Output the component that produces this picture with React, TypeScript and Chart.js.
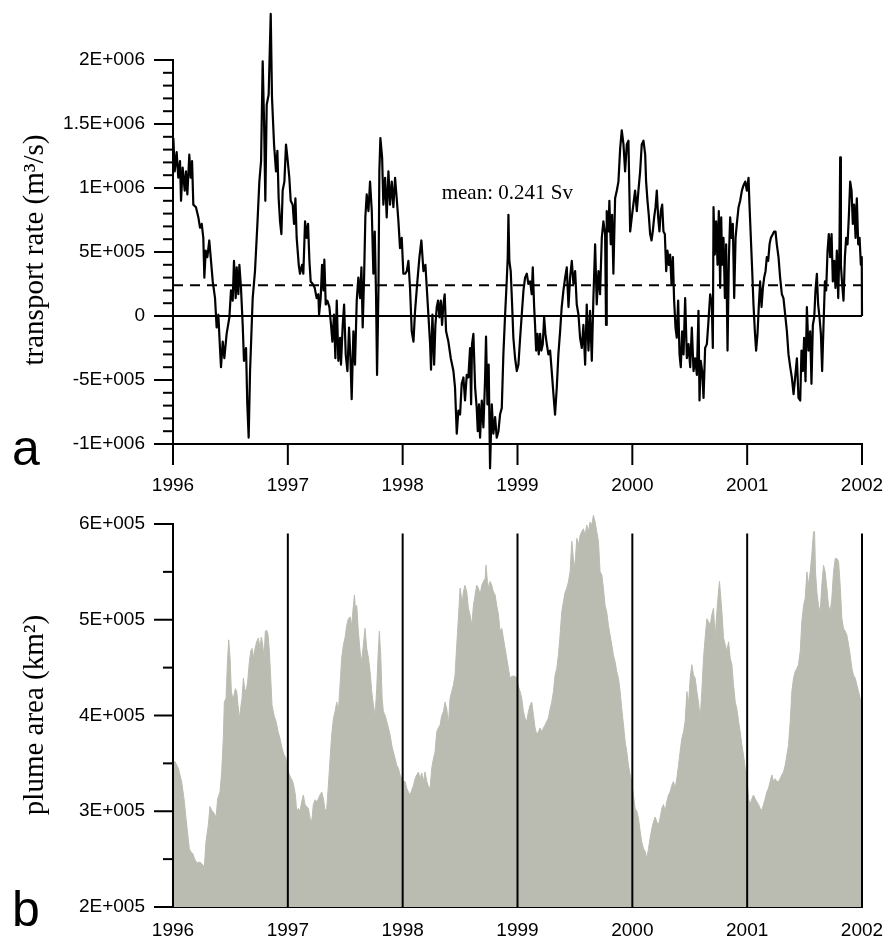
import React, { useEffect, useRef } from "react";
import { Chart, registerables } from "chart.js";

Chart.register(...registerables);

const SANS = '"Liberation Sans", Arial, Helvetica, sans-serif';
const SERIF = '"Liberation Serif", "Times New Roman", Times, serif';

// ---------- Panel a: transport rate (m^3/s) ----------
const transportYears = [
  1996.003,1996.015,1996.032,1996.046,1996.061,1996.070,1996.084,1996.102,1996.113,1996.125,
  1996.142,1996.154,1996.166,1996.177,1996.200,1996.221,1996.235,1996.250,1996.264,1996.273,
  1996.285,1996.299,1996.316,1996.331,1996.346,1996.366,1996.380,1996.395,1996.409,1996.418,
  1996.433,1996.447,1996.467,1996.491,1996.505,1996.520,1996.531,1996.546,1996.555,1996.569,
  1996.578,1996.592,1996.607,1996.618,1996.636,1996.647,1996.659,1996.671,1996.694,1996.714,
  1996.735,1996.752,1996.767,1996.781,1996.793,1996.804,1996.816,1996.833,1996.851,1996.862,
  1996.880,1996.897,1996.909,1996.920,1996.932,1996.944,1996.955,1996.970,1996.984,1996.996,
  1997.013,1997.025,1997.042,1997.054,1997.066,1997.077,1997.095,1997.106,1997.124,1997.135,
  1997.150,1997.164,1997.176,1997.188,1997.199,1997.217,1997.234,1997.251,1997.266,1997.272,
  1997.286,1997.298,1997.310,1997.318,1997.330,1997.344,1997.362,1997.376,1997.388,1997.402,
  1997.414,1997.426,1997.440,1997.455,1997.463,1997.478,1997.490,1997.504,1997.519,1997.533,
  1997.545,1997.556,1997.571,1997.585,1997.600,1997.614,1997.629,1997.641,1997.652,1997.664,
  1997.675,1997.687,1997.702,1997.716,1997.731,1997.745,1997.757,1997.768,1997.777,1997.789,
  1997.797,1997.806,1997.821,1997.832,1997.847,1997.861,1997.876,1997.890,1997.905,1997.919,
  1997.934,1997.948,1997.963,1997.977,1997.992,1998.006,
  1998.022,1998.036,1998.050,1998.064,1998.079,1998.094,1998.108,1998.128,1998.146,1998.163,
  1998.181,1998.198,1998.210,1998.224,1998.239,1998.247,1998.259,1998.274,1998.285,1998.297,
  1998.308,1998.320,1998.332,1998.343,1998.355,1998.366,1998.378,1998.398,1998.419,1998.442,
  1998.456,1998.471,1998.485,1998.500,1998.514,1998.529,1998.543,1998.558,1998.572,1998.587,
  1998.596,1998.604,1998.616,1998.631,1998.645,1998.654,1998.665,1998.674,1998.689,1998.703,
  1998.717,1998.726,1998.738,1998.749,1998.761,1998.776,1998.790,1998.805,1998.819,1998.834,
  1998.848,1998.863,1998.877,1998.892,1998.906,1998.915,1998.921,1998.929,1998.941,1998.953,
  1998.964,1998.979,1998.994,1999.008,1999.023,1999.037,1999.052,1999.066,1999.081,1999.095,
  1999.110,1999.124,1999.133,1999.145,1999.153,1999.162,1999.174,1999.185,1999.197,1999.208,
  1999.220,1999.232,1999.243,1999.255,1999.269,1999.284,1999.298,1999.313,1999.327,1999.342,
  1999.356,1999.371,1999.385,1999.400,1999.415,1999.429,1999.444,1999.458,1999.473,1999.487,
  1999.502,1999.516,1999.531,1999.545,1999.560,1999.574,1999.589,1999.603,1999.618,1999.632,
  1999.647,1999.661,1999.676,1999.690,1999.705,1999.719,1999.734,1999.748,1999.763,1999.771,
  1999.777,1999.792,1999.800,1999.812,1999.824,1999.835,1999.850,1999.865,1999.879,1999.894,
  1999.908,1999.923,1999.937,1999.952,1999.966,1999.981,1999.995,
  2000.024,2000.039,2000.053,2000.068,2000.082,2000.097,2000.112,2000.120,2000.132,2000.143,
  2000.155,2000.167,2000.178,2000.190,2000.202,2000.213,2000.225,2000.236,2000.248,2000.260,
  2000.271,2000.283,2000.295,2000.306,2000.318,2000.329,2000.341,2000.353,2000.364,2000.376,
  2000.387,2000.399,2000.411,2000.422,2000.434,2000.446,2000.460,2000.475,2000.489,2000.504,
  2000.518,2000.533,2000.547,2000.562,2000.576,2000.585,2000.596,2000.608,2000.620,2000.634,
  2000.649,2000.663,2000.678,2000.692,2000.701,2000.707,2000.718,2000.730,2000.742,2000.753,
  2000.765,2000.774,2000.782,2000.794,2000.806,2000.817,2000.829,2000.841,2000.852,2000.864,
  2000.875,2000.887,2000.899,2000.910,2000.925,2000.939,2000.954,2000.968,2000.983,2000.997,
  2001.012,2001.020,2001.032,2001.044,2001.055,2001.067,2001.078,2001.090,2001.102,2001.113,
  2001.125,2001.137,2001.148,2001.160,2001.171,2001.183,2001.195,2001.206,2001.224,2001.235,
  2001.247,2001.258,2001.273,2001.287,2001.302,2001.316,2001.331,2001.346,2001.360,2001.375,
  2001.389,2001.404,2001.418,2001.433,2001.447,2001.462,2001.473,2001.485,2001.496,2001.508,
  2001.520,2001.534,2001.549,2001.560,2001.572,2001.584,2001.595,2001.607,2001.618,2001.630,
  2001.642,2001.653,2001.665,2001.677,2001.688,2001.700,2001.711,2001.723,2001.735,2001.746,
  2001.758,2001.769,2001.781,2001.793,2001.804,2001.810,2001.816,2001.827,2001.839,2001.851,
  2001.862,2001.874,2001.885,2001.897,2001.909,2001.920,2001.932,2001.944,2001.955,2001.967,
  2001.979,2001.990,2001.998,2002.000,
];

const transportValues = [
  1390000,1130000,1280000,1080000,1210000,900000,1160000,980000,1130000,950000,
  1260000,1080000,1210000,870000,850000,770000,690000,720000,610000,300000,
  510000,460000,590000,430000,270000,140000,-90000,10000,-250000,-400000,
  -200000,-330000,-140000,-10000,200000,120000,430000,140000,380000,170000,
  400000,220000,-70000,-350000,-250000,-690000,-950000,-430000,140000,350000,
  720000,1050000,1210000,1990000,1520000,900000,1650000,1730000,2360000,1710000,
  1340000,1130000,1290000,920000,740000,640000,980000,1050000,1340000,1240000,
  1080000,900000,870000,720000,920000,610000,400000,330000,400000,330000,
  740000,610000,720000,430000,270000,250000,220000,140000,170000,10000,
  140000,400000,200000,440000,90000,120000,70000,-70000,-200000,10000,
  -330000,120000,-350000,-170000,-380000,-70000,90000,-300000,-430000,-90000,
  -330000,-650000,-120000,-380000,120000,300000,140000,380000,-90000,300000,
  770000,950000,820000,1050000,820000,330000,660000,170000,-460000,200000,
  1130000,1390000,1240000,870000,1080000,770000,1130000,870000,1050000,850000,
  1080000,920000,740000,530000,610000,330000,
  330000,350000,430000,220000,-120000,-200000,40000,270000,460000,590000,
  350000,400000,220000,10000,-220000,-420000,10000,-380000,-70000,70000,
  120000,-10000,120000,-70000,90000,170000,-120000,-200000,-330000,-430000,
  -560000,-920000,-740000,-770000,-530000,-480000,-660000,-460000,-480000,-250000,
  -690000,-220000,-140000,-560000,-720000,-900000,-690000,-950000,-660000,-870000,
  -510000,-160000,-690000,-380000,-1190000,-690000,-920000,-790000,-950000,-900000,
  -770000,-720000,-300000,10000,270000,460000,790000,430000,350000,90000,
  -170000,-330000,-430000,-380000,-170000,10000,200000,300000,330000,250000,
  270000,170000,380000,70000,-70000,-270000,-140000,-300000,-140000,-270000,
  -220000,-10000,-140000,-220000,-300000,-270000,-430000,-610000,-770000,-560000,
  -300000,-120000,70000,200000,300000,380000,70000,300000,430000,250000,
  350000,90000,10000,-170000,-250000,-70000,-380000,90000,-270000,40000,
  -350000,140000,560000,90000,350000,170000,610000,740000,640000,-70000,
  820000,660000,900000,560000,790000,330000,920000,980000,1050000,1310000,
  1450000,1340000,1130000,1340000,1370000,660000,770000,
  980000,820000,980000,1130000,1340000,1370000,1260000,1050000,900000,790000,
  640000,590000,660000,770000,850000,980000,770000,660000,820000,870000,
  660000,640000,350000,510000,400000,480000,250000,460000,120000,-90000,
  -170000,120000,-300000,-400000,-120000,-300000,140000,-330000,-220000,-400000,
  -90000,-430000,-330000,-460000,40000,-660000,-350000,-430000,-640000,-250000,
  -220000,-40000,170000,90000,-250000,850000,480000,740000,400000,820000,
  220000,770000,400000,610000,140000,560000,-270000,460000,770000,610000,
  720000,140000,610000,720000,850000,900000,980000,1020000,1050000,980000,
  1080000,870000,610000,350000,90000,-120000,-270000,-140000,90000,270000,
  70000,220000,300000,350000,460000,430000,560000,610000,640000,660000,
  660000,560000,460000,300000,170000,140000,10000,-120000,-300000,-400000,
  -480000,-610000,-480000,-330000,-640000,-660000,-270000,-430000,-170000,-510000,
  70000,-270000,-120000,-530000,-70000,-10000,200000,330000,90000,-10000,
  -140000,-430000,-70000,270000,200000,510000,640000,460000,640000,270000,
  430000,220000,510000,140000,560000,1240000,400000,250000,120000,460000,
  610000,560000,770000,1050000,980000,720000,870000,610000,920000,560000,
  610000,400000,460000,0,
];

const meanTransport = 241000; // m^3/s = 0.241 Sv
const meanLabelX = 1998.34;
const meanLabelY = 914000;

const yearTicks = [1996, 1997, 1998, 1999, 2000, 2001, 2002];
const transportTickValues = [-1000000, -500000, 0, 500000, 1000000, 1500000, 2000000];
const transportTickLabels = ["-1E+006", "-5E+005", "0", "5E+005", "1E+006", "1.5E+006", "2E+006"];

// ---------- Panel b: plume area (km^2) ----------
const plumeYears = [
  1996.000,1996.017,1996.046,1996.075,1996.096,1996.119,1996.142,1996.154,1996.171,1996.192,
  1996.212,1996.235,1996.258,1996.273,1996.287,1996.308,1996.322,1996.337,1996.357,1996.375,
  1996.389,1996.409,1996.424,1996.438,1996.447,1996.462,1996.473,1996.485,1996.497,1996.508,
  1996.520,1996.531,1996.543,1996.555,1996.566,1996.578,1996.589,1996.601,1996.613,1996.624,
  1996.636,1996.650,1996.665,1996.677,1996.688,1996.700,1996.714,1996.729,1996.743,1996.758,
  1996.769,1996.781,1996.793,1996.804,1996.816,1996.828,1996.839,1996.851,1996.862,1996.880,
  1996.897,1996.915,1996.932,1996.949,1996.967,1996.984,1996.996,1997.013,1997.031,1997.048,
  1997.066,1997.077,1997.092,1997.106,1997.121,1997.135,1997.150,1997.164,1997.179,1997.193,
  1997.208,1997.222,1997.237,1997.251,1997.266,1997.280,1997.295,1997.310,1997.324,1997.339,
  1997.353,1997.368,1997.382,1997.397,1997.411,1997.426,1997.440,1997.455,1997.469,1997.484,
  1997.498,1997.513,1997.527,1997.542,1997.556,1997.571,1997.580,1997.588,1997.600,1997.614,
  1997.629,1997.643,1997.658,1997.672,1997.687,1997.702,1997.716,1997.731,1997.745,1997.760,
  1997.774,1997.786,1997.797,1997.809,1997.821,1997.832,1997.847,1997.861,1997.876,1997.890,
  1997.905,1997.919,1997.934,1997.948,1997.963,1997.977,1997.992,1998.006,
  1998.021,1998.036,1998.050,1998.064,1998.079,1998.094,1998.108,1998.123,1998.137,1998.152,
  1998.166,1998.181,1998.195,1998.210,1998.224,1998.239,1998.253,1998.268,1998.282,1998.297,
  1998.311,1998.326,1998.340,1998.355,1998.369,1998.384,1998.398,1998.413,1998.427,1998.442,
  1998.456,1998.471,1998.485,1998.500,1998.509,1998.517,1998.529,1998.543,1998.558,1998.572,
  1998.587,1998.602,1998.616,1998.631,1998.645,1998.660,1998.674,1998.689,1998.703,1998.718,
  1998.726,1998.738,1998.749,1998.761,1998.776,1998.790,1998.805,1998.819,1998.834,1998.848,
  1998.863,1998.877,1998.892,1998.906,1998.921,1998.935,1998.950,1998.964,1998.979,1998.994,
  1999.008,1999.023,1999.037,1999.052,1999.066,1999.081,1999.095,1999.110,1999.124,1999.139,
  1999.153,1999.168,1999.182,1999.197,1999.211,1999.226,1999.240,1999.255,1999.269,1999.284,
  1999.298,1999.313,1999.327,1999.342,1999.356,1999.371,1999.385,1999.400,1999.415,1999.429,
  1999.444,1999.458,1999.473,1999.481,1999.493,1999.505,1999.516,1999.531,1999.545,1999.560,
  1999.574,1999.589,1999.603,1999.618,1999.632,1999.647,1999.661,1999.676,1999.690,1999.705,
  1999.719,1999.734,1999.748,1999.763,1999.777,1999.792,1999.806,1999.821,1999.835,1999.850,
  1999.864,1999.879,1999.894,1999.908,1999.923,1999.937,1999.952,1999.966,1999.981,1999.995,
  2000.024,2000.039,2000.053,2000.068,2000.082,2000.097,2000.112,2000.126,2000.141,2000.155,
  2000.170,2000.184,2000.199,2000.213,2000.228,2000.242,2000.257,2000.271,2000.286,2000.300,
  2000.315,2000.329,2000.344,2000.358,2000.373,2000.387,2000.402,2000.416,2000.431,2000.446,
  2000.460,2000.475,2000.489,2000.504,2000.518,2000.533,2000.547,2000.562,2000.576,2000.591,
  2000.605,2000.620,2000.634,2000.649,2000.663,2000.678,2000.692,2000.707,2000.721,2000.736,
  2000.750,2000.759,2000.771,2000.782,2000.794,2000.809,2000.823,2000.838,2000.852,2000.867,
  2000.881,2000.896,2000.910,2000.925,2000.939,2000.954,2000.968,2000.983,2000.997,2001.012,
  2001.026,2001.041,2001.055,2001.070,2001.084,2001.099,2001.113,2001.128,2001.142,2001.157,
  2001.171,2001.186,2001.200,2001.215,2001.229,2001.244,2001.258,2001.273,2001.287,2001.302,
  2001.316,2001.331,2001.346,2001.360,2001.375,2001.389,2001.404,2001.418,2001.433,2001.447,
  2001.462,2001.476,2001.491,2001.505,2001.520,2001.534,2001.549,2001.563,2001.578,2001.587,
  2001.595,2001.607,2001.621,2001.636,2001.650,2001.665,2001.679,2001.694,2001.708,2001.723,
  2001.737,2001.752,2001.767,2001.781,2001.796,2001.810,2001.825,2001.839,2001.854,2001.868,
  2001.883,2001.897,2001.912,2001.926,2001.941,2001.955,2001.970,2001.984,2001.999,
];

const plumeValues = [
  350000,352000,345000,331000,313000,286000,261000,258000,256000,249000,
  246000,247000,244000,242000,268000,286000,305000,301000,298000,294000,
  313000,320000,341000,376000,414000,418000,453000,479000,460000,425000,
  418000,421000,428000,425000,411000,397000,407000,418000,439000,428000,
  425000,435000,456000,467000,470000,460000,470000,477000,481000,470000,
  482000,474000,460000,488000,489000,484000,467000,439000,411000,400000,
  394000,383000,376000,366000,359000,355000,345000,338000,334000,329000,
  317000,300000,303000,300000,310000,317000,307000,305000,303000,293000,
  289000,307000,312000,310000,313000,317000,320000,313000,301000,303000,
  327000,355000,380000,397000,404000,414000,404000,432000,460000,474000,
  481000,494000,501000,503000,494000,515000,526000,512000,515000,488000,
  467000,456000,474000,491000,470000,460000,446000,425000,411000,400000,
  428000,463000,488000,463000,418000,404000,400000,394000,387000,380000,
  369000,362000,355000,348000,345000,338000,334000,331000,
  331000,324000,320000,317000,322000,327000,334000,338000,341000,334000,
  340000,331000,341000,331000,326000,324000,345000,355000,362000,383000,
  387000,390000,400000,404000,414000,407000,390000,418000,425000,432000,
  442000,474000,501000,533000,526000,515000,529000,536000,529000,512000,
  505000,494000,515000,526000,536000,533000,526000,536000,540000,543000,
  557000,540000,533000,540000,536000,529000,526000,515000,505000,488000,
  491000,481000,470000,460000,449000,439000,441000,441000,441000,439000,
  430000,425000,418000,404000,397000,394000,404000,411000,414000,400000,
  387000,380000,383000,387000,383000,387000,390000,394000,397000,407000,
  414000,425000,442000,449000,463000,484000,508000,519000,529000,533000,
  540000,550000,582000,571000,554000,564000,585000,578000,588000,592000,
  595000,588000,599000,592000,602000,599000,609000,602000,592000,582000,
  550000,547000,533000,515000,508000,494000,484000,474000,463000,456000,
  446000,439000,425000,407000,390000,373000,362000,348000,338000,331000,
  303000,300000,293000,279000,268000,261000,258000,251000,261000,272000,
  282000,289000,294000,289000,286000,293000,303000,307000,300000,310000,
  317000,320000,327000,331000,324000,334000,348000,362000,376000,383000,
  394000,425000,411000,439000,453000,442000,439000,425000,414000,397000,
  425000,460000,481000,501000,498000,494000,505000,512000,481000,508000,
  529000,540000,522000,505000,481000,474000,467000,477000,460000,453000,
  432000,414000,407000,394000,383000,369000,359000,345000,338000,313000,
  307000,313000,317000,313000,310000,307000,303000,301000,307000,313000,
  320000,324000,331000,338000,331000,334000,331000,331000,334000,338000,
  341000,348000,359000,369000,394000,425000,439000,446000,449000,453000,
  467000,498000,515000,522000,550000,536000,550000,568000,592000,592000,
  550000,529000,515000,508000,536000,557000,550000,533000,515000,508000,
  522000,550000,564000,564000,561000,536000,501000,491000,488000,484000,
  474000,463000,449000,442000,439000,432000,425000,418000,414000,
];

const plumeTickValues = [200000, 300000, 400000, 500000, 600000];
const plumeTickLabels = ["2E+005", "3E+005", "4E+005", "5E+005", "6E+005"];
const plumeBase = 200000;
const yearLineYears = [1996, 1997, 1998, 1999, 2000, 2001, 2002];
const yearLineTops = [600000, 590000, 590000, 590000, 590000, 590000, 590000];

const pts = (xs: number[], ys: number[]) =>
  xs.map((x, i) => ({ x, y: ys[i] })).filter((p) => p.y !== undefined);

function ticksPlugin(id: string, yFrom: number, yTo: number, minorStep: number, majorStep: number, xTicks: number[] | null) {
  return {
    id,
    afterDraw(chart: any) {
      const { ctx, chartArea } = chart;
      const ys = chart.scales.y;
      const xs = chart.scales.x;
      ctx.save();
      ctx.strokeStyle = "#000";
      ctx.lineWidth = 2;
      const n = Math.round((yTo - yFrom) / minorStep);
      for (let k = 0; k <= n; k++) {
        const v = yFrom + k * minorStep;
        const r = v / majorStep;
        const major = Math.abs(r - Math.round(r)) < 1e-9;
        const len = major ? 19 : 10;
        const py = ys.getPixelForValue(v);
        ctx.beginPath();
        ctx.moveTo(chartArea.left - len, py);
        ctx.lineTo(chartArea.left + 1, py);
        ctx.stroke();
      }
      if (xTicks) {
        for (const t of xTicks) {
          const px = xs.getPixelForValue(t);
          ctx.beginPath();
          ctx.moveTo(px, chartArea.bottom);
          ctx.lineTo(px, chartArea.bottom + 21);
          ctx.stroke();
        }
      }
      ctx.restore();
    },
  };
}

function textPlugin(id: string, letter: string, letterY: number, title: string, titleY: number, extra?: (chart: any) => void) {
  return {
    id,
    afterDraw(chart: any) {
      const { ctx } = chart;
      ctx.save();
      ctx.fillStyle = "#000";
      if (extra) extra(chart);
      ctx.font = `50px ${SANS}`;
      ctx.textAlign = "left";
      ctx.textBaseline = "alphabetic";
      ctx.fillText(letter, 12, letterY);
      ctx.translate(35, titleY);
      ctx.rotate(-Math.PI / 2);
      ctx.font = `29px ${SERIF}`;
      ctx.textAlign = "center";
      ctx.textBaseline = "middle";
      ctx.fillText(title, 0, 0);
      ctx.restore();
    },
  };
}

const tickFont = { family: SANS, size: 19 };

const fitX = (h: number) => (s: any) => {
  s.height = h;
  s.paddingLeft = 0;
  s.paddingRight = 0;
};
const fitY = (s: any) => {
  s.width = 173;
  s.paddingTop = 0;
  s.paddingBottom = 0;
};

export default function App() {
  const refA = useRef<HTMLCanvasElement | null>(null);
  const refB = useRef<HTMLCanvasElement | null>(null);

  useEffect(() => {
    if (!refA.current || !refB.current) return;

    const meanLabel = `mean: ${(meanTransport / 1e6).toFixed(3)} Sv`;

    const chartA = new Chart(refA.current, {
      type: "line",
      data: {
        datasets: [
          {
            data: pts(transportYears, transportValues),
            borderColor: "#000",
            borderWidth: 2.2,
            pointRadius: 0,
            tension: 0,
            fill: false,
            clip: false,
            borderJoinStyle: "round",
          } as any,
          {
            data: [
              { x: yearTicks[0], y: meanTransport },
              { x: yearTicks[yearTicks.length - 1], y: meanTransport },
            ],
            borderColor: "#000",
            borderWidth: 2,
            borderDash: [10, 7],
            pointRadius: 0,
            fill: false,
          },
          {
            data: [
              { x: yearTicks[0], y: 0 },
              { x: yearTicks[yearTicks.length - 1], y: 0 },
            ],
            borderColor: "#000",
            borderWidth: 2,
            pointRadius: 0,
            fill: false,
          },
        ],
      },
      options: {
        animation: false,
        responsive: false,
        events: [],
        layout: { padding: { top: 60, right: 25, left: 0, bottom: 0 } },
        plugins: { legend: { display: false }, tooltip: { enabled: false } },
        scales: {
          x: {
            type: "linear",
            min: 1996,
            max: 2002,
            afterBuildTicks: (s: any) => {
              s.ticks = yearTicks.map((value) => ({ value }));
            },
            afterFit: fitX(496),
            ticks: {
              font: tickFont,
              color: "#000",
              padding: 30,
              maxRotation: 0,
              autoSkip: false,
              callback: (v: any) => String(v),
            },
            grid: { display: false, drawTicks: false },
            border: { display: true, color: "#000", width: 2 },
          },
          y: {
            type: "linear",
            min: -1000000,
            max: 2000000,
            afterBuildTicks: (s: any) => {
              s.ticks = transportTickValues.map((value) => ({ value }));
            },
            afterFit: fitY,
            ticks: {
              font: tickFont,
              color: "#000",
              padding: 28,
              autoSkip: false,
              callback: (v: any) => {
                const i = transportTickValues.indexOf(Number(v));
                return i >= 0 ? transportTickLabels[i] : "";
              },
            },
            grid: { display: false, drawTicks: false },
            border: { display: true, color: "#000", width: 2 },
          },
        },
      },
      plugins: [
        ticksPlugin("ticksA", -1000000, 2000000, 100000, 500000, yearTicks),
        textPlugin("textA", "a", 465, "transport rate (m³/s)", 250, (chart: any) => {
          const { ctx } = chart;
          ctx.font = `21px ${SERIF}`;
          ctx.textAlign = "left";
          ctx.textBaseline = "alphabetic";
          ctx.fillText(
            meanLabel,
            chart.scales.x.getPixelForValue(meanLabelX),
            chart.scales.y.getPixelForValue(meanLabelY)
          );
        }),
      ],
    } as any);

    const lineSets = yearLineYears.map((yr, i) => ({
      data: [
        { x: yr, y: plumeBase },
        { x: yr, y: yearLineTops[i] },
      ],
      borderColor: "#000",
      borderWidth: 2,
      pointRadius: 0,
      fill: false,
      clip: false,
      order: 0,
    }));

    const chartB = new Chart(refB.current, {
      type: "line",
      data: {
        datasets: [
          ...lineSets,
          {
            data: pts(plumeYears, plumeValues),
            borderColor: "rgb(186,187,177)",
            backgroundColor: "rgb(186,187,177)",
            borderWidth: 1,
            pointRadius: 0,
            tension: 0,
            fill: "start",
            clip: false,
            order: 1,
          },
        ],
      },
      options: {
        animation: false,
        responsive: false,
        events: [],
        layout: { padding: { top: 512.5, right: 25, left: 0, bottom: 0 } },
        plugins: { legend: { display: false }, tooltip: { enabled: false } },
        scales: {
          x: {
            type: "linear",
            min: 1996,
            max: 2002,
            afterBuildTicks: (s: any) => {
              s.ticks = yearTicks.map((value) => ({ value }));
            },
            afterFit: fitX(33),
            ticks: {
              font: tickFont,
              color: "#000",
              padding: 12,
              maxRotation: 0,
              autoSkip: false,
              callback: (v: any) => String(v),
            },
            grid: { display: false, drawTicks: false },
            border: { display: true, color: "#000", width: 2 },
          },
          y: {
            type: "linear",
            min: 200000,
            max: 612000,
            afterBuildTicks: (s: any) => {
              s.ticks = plumeTickValues.map((value) => ({ value }));
            },
            afterFit: fitY,
            ticks: {
              font: tickFont,
              color: "#000",
              padding: 28,
              autoSkip: false,
              callback: (v: any) => {
                const i = plumeTickValues.indexOf(Number(v));
                return i >= 0 ? plumeTickLabels[i] : "";
              },
            },
            grid: { display: false, drawTicks: false },
            border: { display: false },
          },
        },
      },
      plugins: [
        ticksPlugin("ticksB", 200000, 600000, 50000, 100000, null),
        textPlugin("textB", "b", 926, "plume area (km²)", 715),
      ],
    } as any);

    return () => {
      chartA.destroy();
      chartB.destroy();
    };
  }, []);

  return (
    <div style={{ position: "absolute", left: 0, top: 0, width: 887, height: 940, background: "#fff" }}>
      <canvas ref={refA} width={887} height={940} style={{ position: "absolute", left: 0, top: 0 }} />
      <canvas ref={refB} width={887} height={940} style={{ position: "absolute", left: 0, top: 0 }} />
    </div>
  );
}
